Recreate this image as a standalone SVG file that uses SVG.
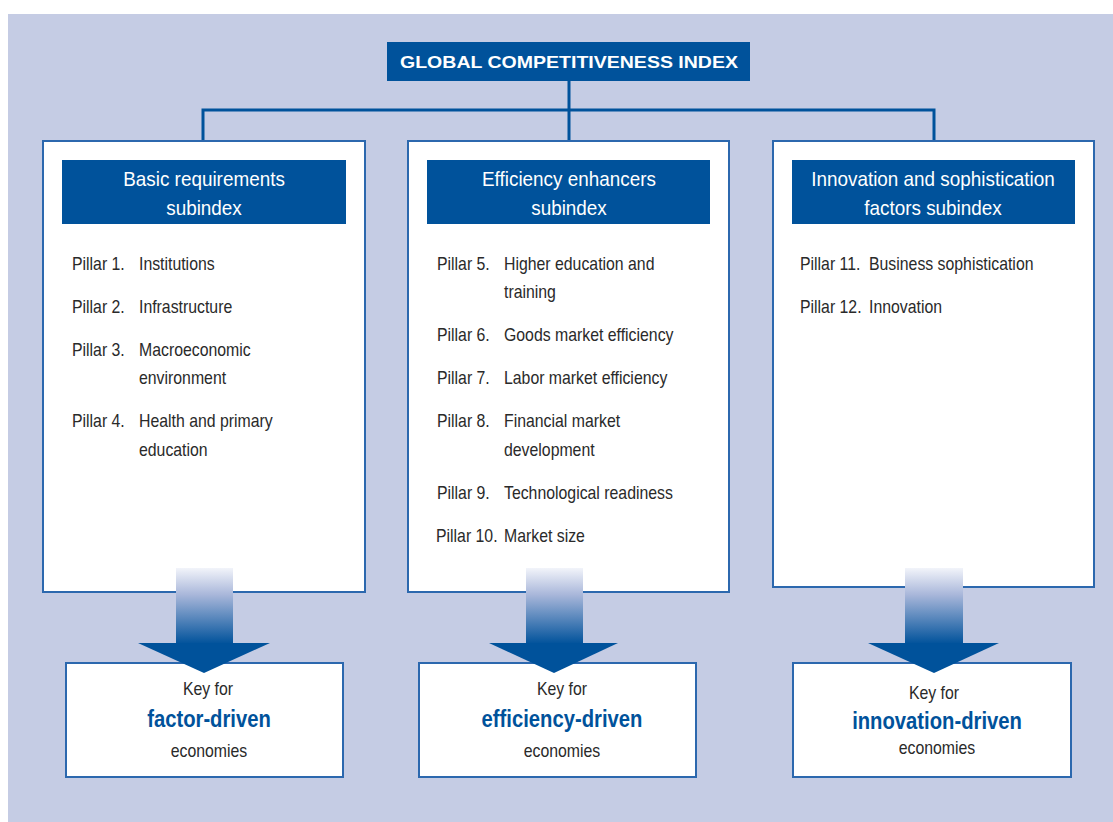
<svg xmlns="http://www.w3.org/2000/svg" width="1113" height="822" viewBox="0 0 1113 822">
<defs>
<linearGradient id="shaft" x1="0" y1="0" x2="0" y2="1">
<stop offset="0" stop-color="#F2F4FA"/>
<stop offset="0.35" stop-color="#A9B7DA"/>
<stop offset="1" stop-color="#00529B"/>
</linearGradient>
<style>
.panel{fill:#fff;stroke:#2C68AE;stroke-width:2}
.hdr{fill:#00529B}
.conn{fill:none;stroke:#00529B;stroke-width:3}
.t{font-family:"Liberation Sans",Arial,sans-serif;font-size:18px;fill:#2a2a2a}
.h{font-family:"Liberation Sans",Arial,sans-serif;font-size:21px;fill:#fff;text-anchor:middle}
.k{font-family:"Liberation Sans",Arial,sans-serif;font-size:18px;fill:#2a2a2a;text-anchor:middle}
.kb{font-family:"Liberation Sans",Arial,sans-serif;font-size:23px;font-weight:bold;fill:#00529B;text-anchor:middle}
.head{fill:#00529B}
</style>
</defs>
<rect x="0" y="0" width="1113" height="822" fill="#fff"/>
<rect x="8" y="14" width="1105" height="808" fill="#C5CCE4"/>

<g id="connectors">
<path class="conn" d="M569 81 V110 M203 140 V110 H934 V140 M569 110 V140"/>
</g>

<g id="gci">
<rect x="387" y="42" width="363" height="39" class="hdr"/>
<text x="569" y="68" font-family="'Liberation Sans',Arial,sans-serif" font-weight="bold" font-size="17" fill="#fff" text-anchor="middle" textLength="338" lengthAdjust="spacingAndGlyphs">GLOBAL COMPETITIVENESS INDEX</text>
</g>

<g id="basic">
<rect x="43" y="141" width="322" height="451" class="panel"/>
<rect x="62" y="160" width="284" height="64" class="hdr"/>
<text class="h" transform="translate(204 186) scale(0.9 1)">Basic requirements</text>
<text class="h" transform="translate(204 215) scale(0.9 1)">subindex</text>
<text class="t" transform="translate(72 270) scale(0.88 1)">Pillar 1.</text><text class="t" transform="translate(139 270) scale(0.88 1)">Institutions</text>
<text class="t" transform="translate(72 313) scale(0.88 1)">Pillar 2.</text><text class="t" transform="translate(139 313) scale(0.88 1)">Infrastructure</text>
<text class="t" transform="translate(72 356) scale(0.88 1)">Pillar 3.</text><text class="t" transform="translate(139 356) scale(0.88 1)">Macroeconomic</text>
<text class="t" transform="translate(139 384) scale(0.88 1)">environment</text>
<text class="t" transform="translate(72 427) scale(0.88 1)">Pillar 4.</text><text class="t" transform="translate(139 427) scale(0.88 1)">Health and primary</text>
<text class="t" transform="translate(139 456) scale(0.88 1)">education</text>
</g>

<g id="efficiency">
<rect x="408" y="141" width="321" height="451" class="panel"/>
<rect x="427" y="160" width="283" height="64" class="hdr"/>
<text class="h" transform="translate(569 186) scale(0.9 1)">Efficiency enhancers</text>
<text class="h" transform="translate(569 215) scale(0.9 1)">subindex</text>
<text class="t" transform="translate(437 270) scale(0.88 1)">Pillar 5.</text><text class="t" transform="translate(504 270) scale(0.88 1)">Higher education and</text>
<text class="t" transform="translate(504 298) scale(0.88 1)">training</text>
<text class="t" transform="translate(437 341) scale(0.88 1)">Pillar 6.</text><text class="t" transform="translate(504 341) scale(0.88 1)">Goods market efficiency</text>
<text class="t" transform="translate(437 384) scale(0.88 1)">Pillar 7.</text><text class="t" transform="translate(504 384) scale(0.88 1)">Labor market efficiency</text>
<text class="t" transform="translate(437 427) scale(0.88 1)">Pillar 8.</text><text class="t" transform="translate(504 427) scale(0.88 1)">Financial market</text>
<text class="t" transform="translate(504 456) scale(0.88 1)">development</text>
<text class="t" transform="translate(437 499) scale(0.88 1)">Pillar 9.</text><text class="t" transform="translate(504 499) scale(0.88 1)">Technological readiness</text>
<text class="t" transform="translate(436 542) scale(0.88 1)">Pillar 10.</text><text class="t" transform="translate(504 542) scale(0.88 1)">Market size</text>
</g>

<g id="innovation">
<rect x="773" y="141" width="321" height="446" class="panel"/>
<rect x="792" y="160" width="283" height="64" class="hdr"/>
<text class="h" transform="translate(933 186) scale(0.9 1)">Innovation and sophistication</text>
<text class="h" transform="translate(933 215) scale(0.9 1)">factors subindex</text>
<text class="t" transform="translate(800 270) scale(0.88 1)">Pillar 11.</text><text class="t" transform="translate(869 270) scale(0.88 1)">Business sophistication</text>
<text class="t" transform="translate(800 313) scale(0.88 1)">Pillar 12.</text><text class="t" transform="translate(869 313) scale(0.88 1)">Innovation</text>
</g>

<g id="key1">
<rect x="66" y="663" width="277" height="114" class="panel"/>
<text class="k" transform="translate(208 695) scale(0.88 1)">Key for</text>
<text class="kb" transform="translate(209 727) scale(0.88 1)">factor-driven</text>
<text class="k" transform="translate(209 757) scale(0.88 1)">economies</text>
</g>
<g id="key2">
<rect x="419" y="663" width="277" height="114" class="panel"/>
<text class="k" transform="translate(562 695) scale(0.88 1)">Key for</text>
<text class="kb" transform="translate(562 727) scale(0.88 1)">efficiency-driven</text>
<text class="k" transform="translate(562 757) scale(0.88 1)">economies</text>
</g>
<g id="key3">
<rect x="793" y="663" width="278" height="114" class="panel"/>
<text class="k" transform="translate(934 699) scale(0.88 1)">Key for</text>
<text class="kb" transform="translate(937 729) scale(0.88 1)">innovation-driven</text>
<text class="k" transform="translate(937 754) scale(0.88 1)">economies</text>
</g>

<g id="arrow1">
<rect x="176" y="568" width="57" height="76" fill="url(#shaft)"/>
<polygon class="head" points="138,643 270,643 204,673"/>
</g>
<g id="arrow2">
<rect x="526" y="568" width="57" height="76" fill="url(#shaft)"/>
<polygon class="head" points="489,643 618,643 554,673"/>
</g>
<g id="arrow3">
<rect x="905" y="568" width="58" height="76" fill="url(#shaft)"/>
<polygon class="head" points="868,643 999,643 934,673"/>
</g>
</svg>
